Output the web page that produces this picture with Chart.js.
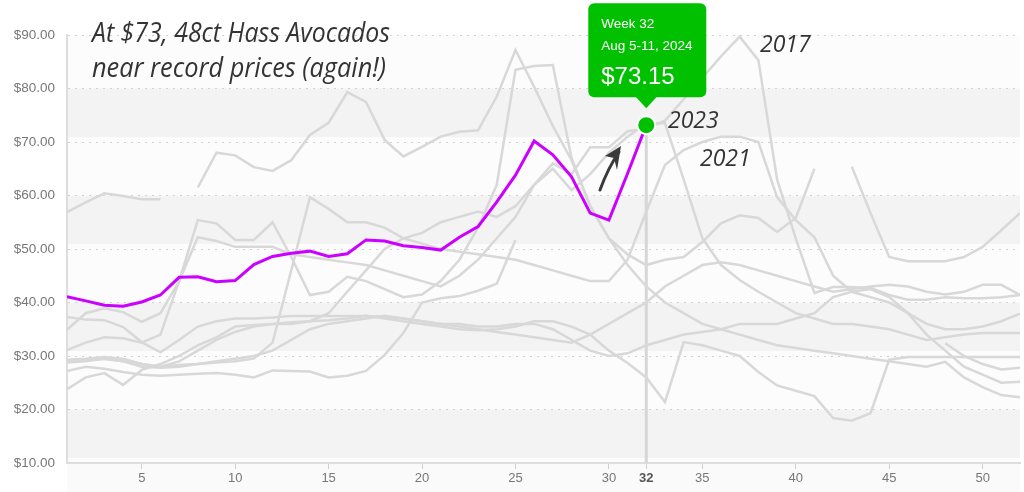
<!DOCTYPE html>
<html>
<head>
<meta charset="utf-8">
<script src="https://cdn.jsdelivr.net/npm/chart.js@4.4.1/dist/chart.umd.min.js"></script>
<style>
  html, body { margin: 0; padding: 0; background: #fff; }
  #wrap { width: 1024px; height: 492px; position: relative; }
</style>
</head>
<body>
<div id="wrap"><canvas id="avoChart"></canvas></div>
<script>
// Weken (x-as)
const weeks = [1,2,3,4,5,6,7,8,9,10,11,12,13,14,15,16,17,18,19,20,21,22,23,24,25,26,
  27,28,29,30,31,32,33,34,35,36,37,38,39,40,41,42,43,44,45,46,47,48,49,50,51,52];

// Prijzen per jaar ($ per doos 48ct Hass)
const price2015 = [27.2,28,27.6,27,26.5,26.3,26.5,26.7,26.8,26.5,26,27.3,27.2,27.1,26,26.3,27.2,30.2,34.3,40,
  40.8,41.2,42.2,43.5,51.7,null,null,null,null,null,null,null,null,null,null,null,null,null,null,null,
  null,null,null,null,null,null,null,32.4,30,28.5,27.5,27.8];
const price2016 = [23.8,26,26.8,24.6,27.4,28.5,30,32,33.5,35.5,35.8,36,36.3,36.5,36.7,37,37.5,37,36.5,36,
  35.5,35,34.8,35,35.5,36.5,36.5,35.5,34,31,28.7,26,21.4,32.6,32,31,30,27,24.5,23.5,
  22.5,18.4,17.9,19.3,29.3,29.8,29.8,29.8,29.8,29.8,29.8,29.8];
const price2017 = [28.8,29,29.5,29,28.5,28,29,31,33,34.5,35.5,36,36,36.5,38,42,46,50,52,53,
  55,56,57,56,58,62,66,64,69,69,72,72.5,74,78,82,86,89.7,85.3,63,52,
  41.8,42.9,42.9,42.7,41.4,40.5,40.5,41,40.8,40.8,41,41.4];
const price2018 = [37.3,36.8,36.7,35.4,32.6,30.7,33,35.5,36.5,37,37,37.2,37.5,37.5,37.5,37.5,37.5,37.3,37,36.5,
  36,35.5,35,34.5,34,33.5,33,32.5,34,36,38,40,43,45,47,47.5,47,46,45,44,
  43,42,42.5,43,43.3,43,42,41.5,42,43.3,43.3,41.4];
const price2019 = [31.1,32.5,33.5,33.3,32.5,34,44,55.4,54.8,51.7,51.7,55,48.5,41.4,42,44.8,44,42.5,41,41.5,
  44,48,54,62,83.5,84.2,84.4,67,58,52,49,47,48,48.5,51.3,54.8,56.3,55.8,53.2,55.8,
  65,null,65.4,56.7,48.5,47.7,47.7,47.7,48.5,50.4,53.5,56.7];
const price2020 = [29,29.2,29.5,29,28,27.8,28,28.5,29,29.5,30,31,33,35,36,36.5,37,37.5,37,36.5,
  36,36,35.5,35.5,36,36,35,33,31,30,30.5,32,33,34,34.5,35,36,36,36,37,
  38,41,42,42.5,41,38,34,31,28,26.5,25,25.2];
const price2021 = [29.3,29.5,29.8,29.5,28.5,28,28.3,28.5,28.8,29,29.5,32.5,46,59.7,57.5,55,55,54,52,51,
  50,49.5,49,48.5,48,47,46,45,44,44,48,57,65.7,68.5,70,71,71,70,59.7,55.4,
  52.2,45,42,41,40,38,36,35,35,35.5,36.5,37.9];
const price2022 = [56.9,58.7,60.4,59.9,59.3,59.3,null,61.5,68,67.5,65.3,64.6,66.6,71.3,73.6,79.3,77.5,70.4,67.3,69.1,
  71,71.9,72.2,78.5,87.2,80.3,73,66.6,58,52,47,43,40,38,36,35,34,33,32,31.5,
  31,30.5,30,29.5,29,28.5,28,28.9,26,24.2,22.7,22.3];
const price2023 = [34.9,38,38.9,38.2,36.4,38,44,52.2,51.5,50.4,50.4,50.4,49,48.5,48,47.5,47,46,45,44,
  43,45,48,52,56,62,65,61,64,68,71,73.5,73.5,63,52,47,44.2,42,40,38,
  37,36,36,35.5,35,34,33,33.5,34,34.3,34.3,34.3];
const price2024 = [41.1,40.3,39.5,39.3,40.1,41.4,44.7,44.8,43.9,44.1,47.1,48.6,49.2,49.6,48.6,49.1,51.7,51.5,50.6,50.3,
  49.8,52.2,54.2,58.8,63.8,70.2,67.6,63.5,56.7,55.4,64.1,73.15];

const olderYears = ["2015","2016","2017","2018","2019","2020","2021","2022","2023"];
const olderPrices = [price2015,price2016,price2017,price2018,price2019,price2020,price2021,price2022,price2023];

// As-ticks
const xTickWeeks = [5,10,15,20,25,30,32,35,40,45,50];
const yMin = 10, yMax = 90, yStep = 10;

// Gemarkeerde week en teksten
const highlightWeek = 32;
const tooltipLines = ["Week 32", "Aug 5-11, 2024", "$73.15"];
const titleLines = ["At $73, 48ct Hass Avocados", "near record prices (again!)"];
const yearNotes = ["2017", "2023", "2021"];

const GREEN = "#00c000";
const HAND = '"Open Sans", "DejaVu Sans", sans-serif';

// Achtergrondbanden
const bandsPlugin = {
  id: "bands",
  beforeDraw(chart) {
    const { ctx, chartArea: a, scales: { y } } = chart;
    ctx.save();
    ctx.fillStyle = "#fcfcfc";
    ctx.fillRect(a.left, a.top, a.right - a.left, a.bottom - a.top);
    ctx.fillStyle = "#f3f3f3";
    for (let v = 20; v <= 80; v += 20) {
      const top = y.getPixelForValue(v);
      const bot = y.getPixelForValue(v - yStep) - 5;
      ctx.fillRect(a.left, top, a.right - a.left, bot - top);
    }
    ctx.fillStyle = "#fafafa";
    ctx.fillRect(a.left, a.bottom, a.right - a.left, chart.height - a.bottom);
    ctx.restore();
  }
};

// Verticale lijn naar het gemarkeerde punt
const guidePlugin = {
  id: "guide",
  beforeDatasetsDraw(chart) {
    const { ctx, chartArea: a } = chart;
    const pt = chart.getDatasetMeta(0).data[highlightWeek - 1];
    ctx.save();
    ctx.strokeStyle = "#d6d6d6";
    ctx.lineWidth = 3;
    ctx.beginPath();
    ctx.moveTo(pt.x, pt.y);
    ctx.lineTo(pt.x, a.bottom);
    ctx.stroke();
    ctx.restore();
  }
};

// Tooltip, titel, jaartallen en pijl
const notesPlugin = {
  id: "notes",
  afterDraw(chart) {
    const { ctx } = chart;
    const pt = chart.getDatasetMeta(0).data[highlightWeek - 1];
    ctx.save();

    // tooltip box
    const w = 118, h = 94;
    const bx = pt.x - 58, by = pt.y - 28 - h;
    ctx.fillStyle = GREEN;
    ctx.beginPath();
    ctx.roundRect(bx, by, w, h, 6);
    ctx.fill();
    ctx.beginPath();
    ctx.moveTo(pt.x - 11, by + h - 1);
    ctx.lineTo(pt.x + 11, by + h - 1);
    ctx.lineTo(pt.x, by + h + 11);
    ctx.closePath();
    ctx.fill();
    ctx.fillStyle = "#ffffff";
    ctx.textBaseline = "alphabetic";
    ctx.font = '13.5px "Liberation Sans", Arial, sans-serif';
    ctx.fillText(tooltipLines[0], bx + 13, by + 25);
    ctx.fillText(tooltipLines[1], bx + 13, by + 47);
    ctx.font = '24px "Liberation Sans", Arial, sans-serif';
    ctx.fillText(tooltipLines[2], bx + 13, by + 81);

    // titel
    ctx.fillStyle = "#333333";
    ctx.font = "italic 27px " + HAND;
    ctx.fillText(titleLines[0], 92, 42, 298);
    ctx.fillText(titleLines[1], 92, 77, 294);

    // jaartallen
    ctx.font = "italic 23px " + HAND;
    ctx.fillText(yearNotes[0], 760, 52, 56);
    ctx.fillText(yearNotes[1], 668, 128, 56);
    ctx.fillText(yearNotes[2], 700, 166, 56);

    // pijl
    ctx.strokeStyle = "#3a3a3a";
    ctx.fillStyle = "#3a3a3a";
    ctx.lineWidth = 3;
    ctx.lineCap = "round";
    ctx.beginPath();
    ctx.moveTo(600, 190);
    ctx.quadraticCurveTo(608, 168, 619, 152);
    ctx.stroke();
    ctx.beginPath();
    ctx.moveTo(621, 146);
    ctx.lineTo(605, 156);
    ctx.lineTo(614, 158);
    ctx.lineTo(617, 170);
    ctx.closePath();
    ctx.fill();
    ctx.restore();
  }
};

const datasets = [{
  label: "2024",
  data: price2024,
  borderColor: "#cc00ff",
  borderWidth: 3,
  tension: 0,
  order: 0,
  pointRadius: c => c.dataIndex === highlightWeek - 1 ? 9 : 0,
  pointBackgroundColor: GREEN,
  pointBorderColor: "#ffffff",
  pointBorderWidth: 2
}];
olderYears.forEach((yr, i) => {
  datasets.push({
    label: yr,
    data: olderPrices[i],
    borderColor: "#d8d8d8",
    borderWidth: 2.5,
    tension: 0,
    pointRadius: 0,
    spanGaps: false,
    order: 1
  });
});

new Chart(document.getElementById("avoChart"), {
  type: "line",
  data: { labels: weeks, datasets: datasets },
  options: {
    responsive: true,
    maintainAspectRatio: false,
    animation: false,
    layout: { autoPadding: false, padding: { top: 35, right: 4, left: 0, bottom: 0 } },
    plugins: { legend: { display: false }, tooltip: { enabled: false } },
    scales: {
      x: {
        type: "linear",
        min: 1,
        max: 52,
        afterBuildTicks: s => { s.ticks = xTickWeeks.map(v => ({ value: v })); },
        afterFit: s => { s.height = 29; },
        grid: { display: true, drawOnChartArea: false, tickLength: 6, color: "#cfcfcf", tickWidth: 1 },
        border: { display: true, color: "#dddddd", width: 2 },
        ticks: {
          autoSkip: false,
          maxRotation: 0,
          padding: 2,
          color: c => c.tick && c.tick.value === highlightWeek ? "#555555" : "#777777",
          font: c => ({
            family: '"Liberation Sans", Arial, sans-serif',
            size: 13,
            weight: c.tick && c.tick.value === highlightWeek ? "bold" : "normal"
          })
        }
      },
      y: {
        min: yMin,
        max: yMax,
        afterFit: s => { s.width = 67; },
        ticks: {
          stepSize: yStep,
          padding: 12,
          color: "#777777",
          font: { family: '"Liberation Sans", Arial, sans-serif', size: 13.5 },
          callback: v => "$" + v.toFixed(2)
        },
        grid: { color: "#d2d2d2", drawTicks: false, lineWidth: 1 },
        border: { display: true, color: "#dddddd", width: 2, dash: [2, 5] }
      }
    }
  },
  plugins: [bandsPlugin, guidePlugin, notesPlugin]
});
</script>
</body>
</html>
